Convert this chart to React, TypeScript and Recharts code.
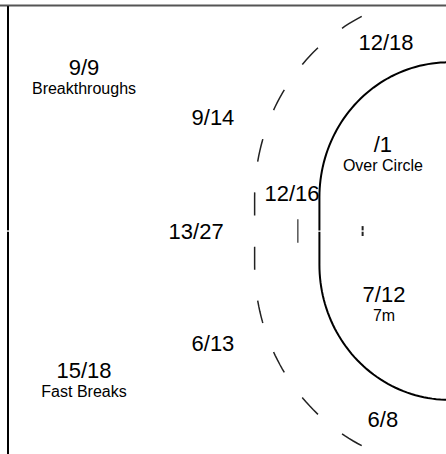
import { ScatterChart, Scatter, XAxis, YAxis } from 'recharts';

// shot zones: made / attempts, as printed on the court
const zoneCaptions = ['Breakthroughs', '', '', 'Over Circle', '', '', '7m', '', 'Fast Breaks', ''];
const made: (number | null)[] = [9, 9, 12, null, 12, 13, 7, 6, 15, 6];
const attempts = [9, 14, 18, 1, 16, 27, 12, 13, 18, 8];

// where each zone label sits on the court (metres from goal line, metres from centre, up = +)
const zoneSpots: [number, number][] = [
  [16.9, 6.93],
  [10.93, 4.71],
  [2.92, 8.04],
  [3.06, 3.53],
  [7.27, 1.33],
  [11.71, -0.36],
  [3.01, -3.16],
  [10.93, -5.33],
  [16.9, -6.53],
  [3.06, -8.71],
];

// court geometry (metres)
const POST = 1.5;
const AREA = 6;
const FREE_THROW = 9;
const SIDE = 10;
const LEFT_EDGE = 20.42;
const GAP = 0.03;

const X_DOMAIN: [number, number] = [0.139, 20.79];
const Y_DOMAIN: [number, number] = [-9.91, 10.27];

const W = 446;
const H = 454;

const zoneData = attempts.map((a, i) => ({
  x: zoneSpots[i][0],
  y: zoneSpots[i][1],
  value: `${made[i] ?? ''}/${a}`,
  caption: zoneCaptions[i],
}));

// one half of a goal-area style line, starting at the centre and running out to the edge
function halfLine(r: number, sign: number, maxLat: number) {
  const pts = [
    { x: r, y: sign * GAP },
    { x: r, y: sign * POST },
  ];
  const phiMax = Math.asin(Math.min(1, (maxLat - POST) / r));
  const steps = 48;
  for (let i = 1; i <= steps; i++) {
    const phi = (phiMax * i) / steps;
    pts.push({ x: r * Math.cos(phi), y: sign * (POST + r * Math.sin(phi)) });
  }
  return pts;
}

const areaTop = halfLine(AREA, 1, POST + AREA);
const areaBottom = halfLine(AREA, -1, POST + AREA);
const freeTop = halfLine(FREE_THROW, 1, SIDE);
const freeBottom = halfLine(FREE_THROW, -1, SIDE);

const topLine = [
  { x: X_DOMAIN[1], y: SIDE + 0.03 },
  { x: X_DOMAIN[0], y: SIDE + 0.03 },
];
const leftTop = [
  { x: LEFT_EDGE, y: SIDE },
  { x: LEFT_EDGE, y: GAP },
];
const leftBottom = [
  { x: LEFT_EDGE, y: -GAP },
  { x: LEFT_EDGE, y: Y_DOMAIN[0] },
];
const sevenLine = [
  { x: 7, y: 0.52 },
  { x: 7, y: -0.52 },
];
const keeperTop = [
  { x: 4, y: 0.22 },
  { x: 4, y: GAP },
];
const keeperBottom = [
  { x: 4, y: -GAP },
  { x: 4, y: -0.22 },
];

const font = '"Liberation Sans", Arial, sans-serif';

const NoDot = () => <g />;

const ZoneLabel = (props: any) => {
  const { cx, cy, payload } = props;
  return (
    <g>
      <text x={cx} y={cy} textAnchor="middle" fontSize={22} fill="#000" fontFamily={font}>
        {payload.value}
      </text>
      {payload.caption && (
        <text x={cx} y={cy + 19} textAnchor="middle" fontSize={16} fill="#000" fontFamily={font}>
          {payload.caption}
        </text>
      )}
    </g>
  );
};

const dashed = { stroke: '#222', strokeWidth: 1.5, strokeDasharray: '23 31', strokeDashoffset: 39 };
const solid = { stroke: '#000', strokeWidth: 2 };

export default function App() {
  return (
    <div style={{ position: 'absolute', left: 0, top: 0, width: W, height: H, background: '#fff' }}>
      <ScatterChart width={W} height={H} margin={{ top: 0, right: 0, bottom: 0, left: 0 }}>
        <XAxis type="number" dataKey="x" domain={X_DOMAIN} reversed allowDataOverflow hide />
        <YAxis type="number" dataKey="y" domain={Y_DOMAIN} allowDataOverflow hide />

        <Scatter data={topLine} line={{ stroke: '#555', strokeWidth: 2 }} shape={NoDot} isAnimationActive={false} />
        <Scatter data={leftTop} line={solid} shape={NoDot} isAnimationActive={false} />
        <Scatter data={leftBottom} line={solid} shape={NoDot} isAnimationActive={false} />

        <Scatter data={freeTop} line={dashed} shape={NoDot} isAnimationActive={false} />
        <Scatter data={freeBottom} line={dashed} shape={NoDot} isAnimationActive={false} />

        <Scatter data={areaTop} line={solid} shape={NoDot} isAnimationActive={false} />
        <Scatter data={areaBottom} line={solid} shape={NoDot} isAnimationActive={false} />

        <Scatter data={sevenLine} line={{ stroke: '#555', strokeWidth: 1.5 }} shape={NoDot} isAnimationActive={false} />
        <Scatter data={keeperTop} line={{ stroke: '#222', strokeWidth: 2 }} shape={NoDot} isAnimationActive={false} />
        <Scatter data={keeperBottom} line={{ stroke: '#222', strokeWidth: 2 }} shape={NoDot} isAnimationActive={false} />

        <Scatter data={zoneData} shape={ZoneLabel} isAnimationActive={false} />
      </ScatterChart>
    </div>
  );
}
